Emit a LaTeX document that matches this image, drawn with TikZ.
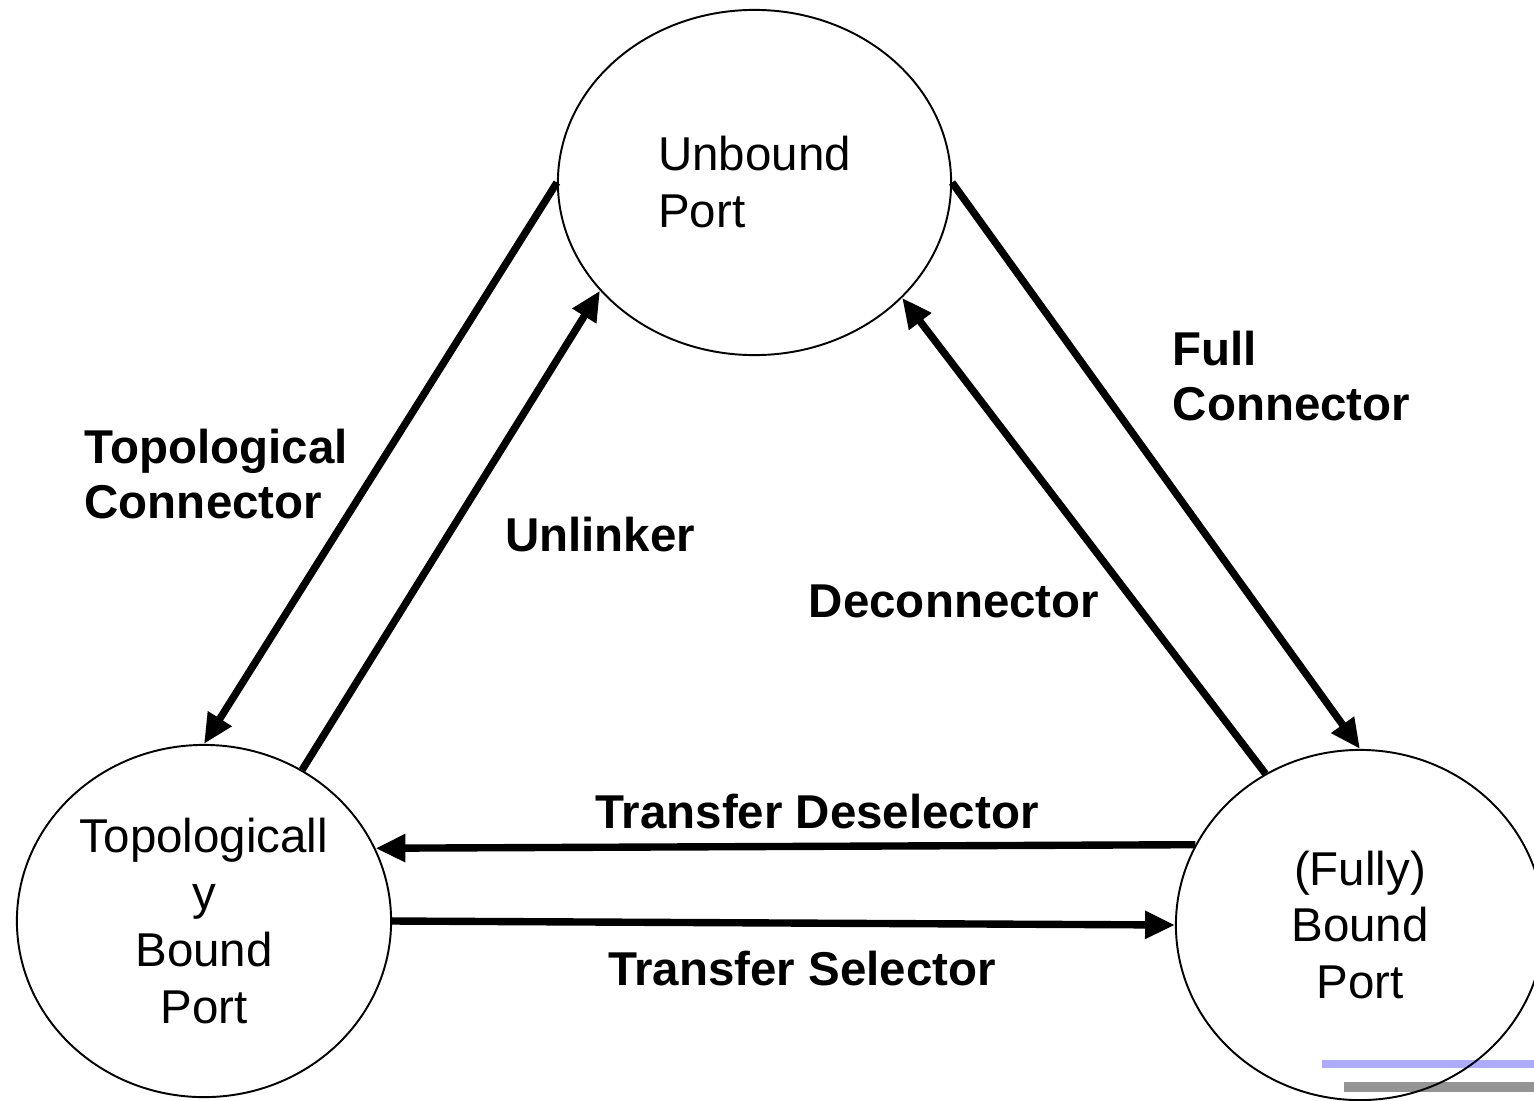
\documentclass[tikz,border=0pt]{standalone}
\usepackage{fontspec}
\setmainfont{Liberation Sans}
\usetikzlibrary{shapes.geometric,arrows.meta}

\tikzset{
  port/.style={ellipse, draw, line width=0.55pt, inner sep=0pt,
    font=\fontsize{13.5}{16.2}\selectfont},
  trans/.style={line width=2.1pt, -{Triangle[length=8.5pt,width=7.5pt]}},
  lbl/.style={inner sep=0pt, align=left,
    font=\fontsize{13.5}{15.8}\selectfont\bfseries},
}

\begin{document}
\begin{tikzpicture}[x=0.01cm, y=-0.01cm]
\useasboundingbox (0,0) rectangle (1534,1100);
% footer bars
\fill[blue!33] (1322,1060) rectangle (1534,1068);
\fill[black!42] (1344,1082) rectangle (1534,1092);

% the three port states
\node[port, minimum width=3.93cm, minimum height=3.45cm, align=left] (unb) at (754.5,182.5) {Unbound\\Port};
\node[port, minimum width=3.74cm, minimum height=3.52cm, align=center] (topo) at (204,921) {Topologicall\\y\\Bound\\Port};
\node[port, minimum width=3.68cm, minimum height=3.50cm, align=center] (full) at (1360,925) {(Fully)\\Bound\\Port};

% transitions
\draw[trans] (unb.west) -- (topo.north);
\draw[trans] (topo.57.9) -- (unb.215.6);
\draw[trans] (unb.east) -- (full.north);
\draw[trans] (full.122.9) -- (unb.322.9);
\draw[trans] (full.154.8) -- (topo.23.2);
\draw[trans] (topo.east) -- (full.west);

\node[lbl, anchor=west] (ltc) at (84,474) {Topological\\Connector};
\node[lbl] (lul) at (600,535) {Unlinker};
\node[lbl, anchor=west] (lfc) at (1172,376) {Full\\Connector};
\node[lbl] (ldc) at (954,601) {Deconnector};
\node[lbl] (ltd) at (817,812) {Transfer Deselector};
\node[lbl] (lts) at (802,969) {Transfer Selector};
\end{tikzpicture}
\end{document}
